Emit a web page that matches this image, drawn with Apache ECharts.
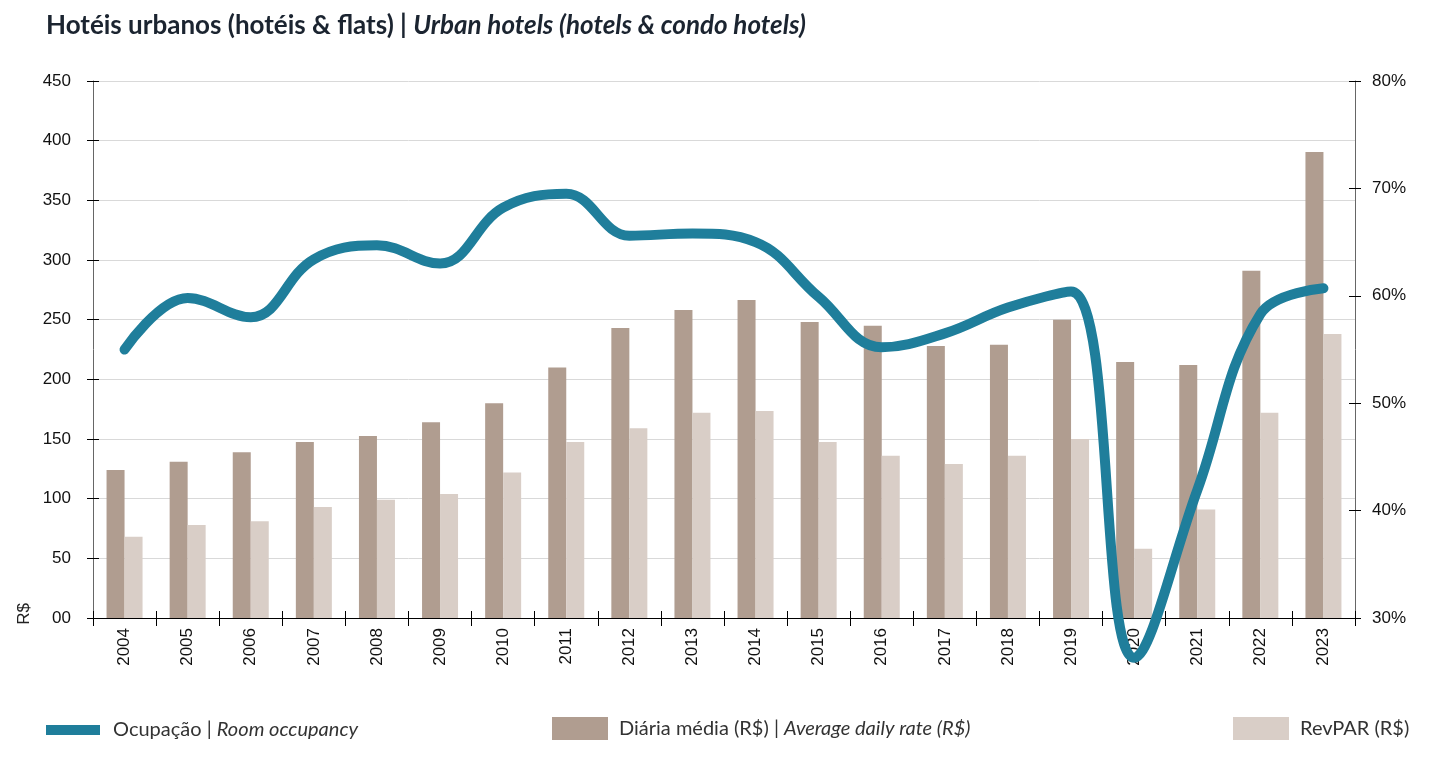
<!DOCTYPE html>
<html>
<head>
<meta charset="utf-8">
<script src="https://cdn.jsdelivr.net/npm/echarts@6/dist/echarts.min.js"></script>
<style>
html,body{margin:0;padding:0;background:#fff;}
#chart{width:1444px;height:780px;}
</style>
</head>
<body>
<div id="chart"></div>
<script>
const years = ['2004','2005','2006','2007','2008','2009','2010','2011','2012','2013','2014','2015','2016','2017','2018','2019','2020','2021','2022','2023'];
const adr = [124,131,139,147.5,152.5,164,180,210,243,258,266.5,248,245,228,229,250,214.5,212,291,390.5];
const revpar = [68,78,81,93,99,104,122,147.5,159,172,173.5,147.5,136,129,136,150,58,91,172,238];
const occupancy = [55,59.8,58,63.4,64.7,63,68.2,69.5,65.6,65.8,65,59.9,55.2,56.5,58.9,60.4,26.3,41.9,58.3,60.7];
const leftTicks = [0,50,100,150,200,250,300,350,400,450];
const rightTicks = [30,40,50,60,70,80];

const chart = echarts.init(document.getElementById('chart'));
const axisFont = 'Liberation Sans, Arial, sans-serif';
const lf = 'Lato, Noto Sans, sans-serif';
function legendText(pad) {
  return {
    fontFamily: lf, fontSize: 20, color: '#333',
    rich: {
      n: {fontFamily: lf, fontSize: 20, color: '#333', padding: [0, 0, 0, pad]},
      m: {fontFamily: lf, fontSize: 20, color: '#333'},
      i: {fontFamily: lf, fontSize: 20, color: '#333', fontStyle: 'italic'}
    }
  };
}
const lineColor = '#1f7e9b';
chart.setOption({
  animation: false,
  title: {
    left: 46, top: 13, padding: 0,
    text: '{a|Hotéis urbanos (hotéis & flats) | }{b|Urban hotels (hotels & condo hotels)}',
    textStyle: {
      rich: {
        a: {fontFamily: lf, fontWeight: 'bold', fontSize: 26, color: '#1b2430'},
        b: {fontFamily: lf, fontWeight: 'bold', fontStyle: 'italic', fontSize: 26, color: '#1b2430'}
      }
    }
  },
  graphic: [{
    type: 'text', left: 16, top: 603, rotation: Math.PI / 2,
    style: {text: 'R$', font: '17px Liberation Sans, Arial, sans-serif', fill: '#222'}
  }],
  legend: [
    {left: 46, top: 720, padding: 0, itemWidth: 54, itemHeight: 10, icon: 'rect',
     data: ['occ'], formatter: () => '{n|Ocupação | }{i|Room occupancy}', textStyle: legendText(8)},
    {left: 552, top: 717, padding: 0, itemWidth: 56, itemHeight: 23, icon: 'rect',
     data: ['adr'], formatter: () => '{n|Diária média (R$) | }{i|Average daily rate (R$)}', textStyle: legendText(6)},
    {left: 1233, top: 717, padding: 0, itemWidth: 56, itemHeight: 23, icon: 'rect',
     data: ['revpar'], formatter: () => '{n|RevPAR (R$)}', textStyle: legendText(6)}
  ],
  grid: {left: 93, right: 89, top: 81, bottom: 162, containLabel: false},
  xAxis: [
    {
      type: 'category', data: years, position: 'bottom',
      axisLine: {lineStyle: {color: '#000', width: 1}},
      axisTick: {show: true, length: 8, lineStyle: {color: '#000'}},
      axisLabel: {rotate: 90, fontFamily: axisFont, fontSize: 17, color: '#111', margin: 10}
    },
    {
      type: 'category', data: years, position: 'bottom',
      axisLine: {show: false},
      axisTick: {show: true, inside: true, length: 7, lineStyle: {color: '#000'}},
      axisLabel: {show: false}, splitLine: {show: false}
    }
  ],
  yAxis: [
    {
      type: 'value', min: 0, max: 450, interval: 50,
      axisLine: {show: true, lineStyle: {color: '#666'}},
      axisTick: {show: true, length: 6, lineStyle: {color: '#000'}},
      axisLabel: {fontFamily: axisFont, fontSize: 17, color: '#111', margin: 22,
        formatter: v => v === 0 ? '00' : String(v)},
      splitLine: {show: true, lineStyle: {color: '#d9d9d9', width: 1}}
    },
    {
      type: 'value', min: 30, max: 80, interval: 10, position: 'right',
      axisLine: {show: true, lineStyle: {color: '#666'}},
      axisTick: {show: true, length: 6, lineStyle: {color: '#000'}},
      axisLabel: {fontFamily: axisFont, fontSize: 17, color: '#111', margin: 17,
        formatter: v => v + '%'},
      splitLine: {show: false}
    },
    {
      type: 'value', min: 0, max: 450, interval: 50, position: 'left',
      axisLine: {show: false},
      axisTick: {show: true, inside: true, length: 6, lineStyle: {color: '#000'}},
      axisLabel: {show: false}, splitLine: {show: false}
    },
    {
      type: 'value', min: 30, max: 80, interval: 10, position: 'right',
      axisLine: {show: false},
      axisTick: {show: true, inside: true, length: 6, lineStyle: {color: '#000'}},
      axisLabel: {show: false}, splitLine: {show: false}
    }
  ],
  series: [
    {name: 'adr', type: 'bar', data: adr, barWidth: 18, barGap: '0%',
     itemStyle: {color: '#b09d90'}},
    {name: 'revpar', type: 'bar', data: revpar, barWidth: 18, barGap: '0%',
     itemStyle: {color: '#d9cec7'}},
    {name: 'occ', type: 'line', yAxisIndex: 1, data: occupancy, smooth: 0.4, clip: false,
     symbol: 'none', z: 5,
     lineStyle: {color: lineColor, width: 10, cap: 'round'},
     itemStyle: {color: lineColor}}
  ]
});
</script>
</body>
</html>
